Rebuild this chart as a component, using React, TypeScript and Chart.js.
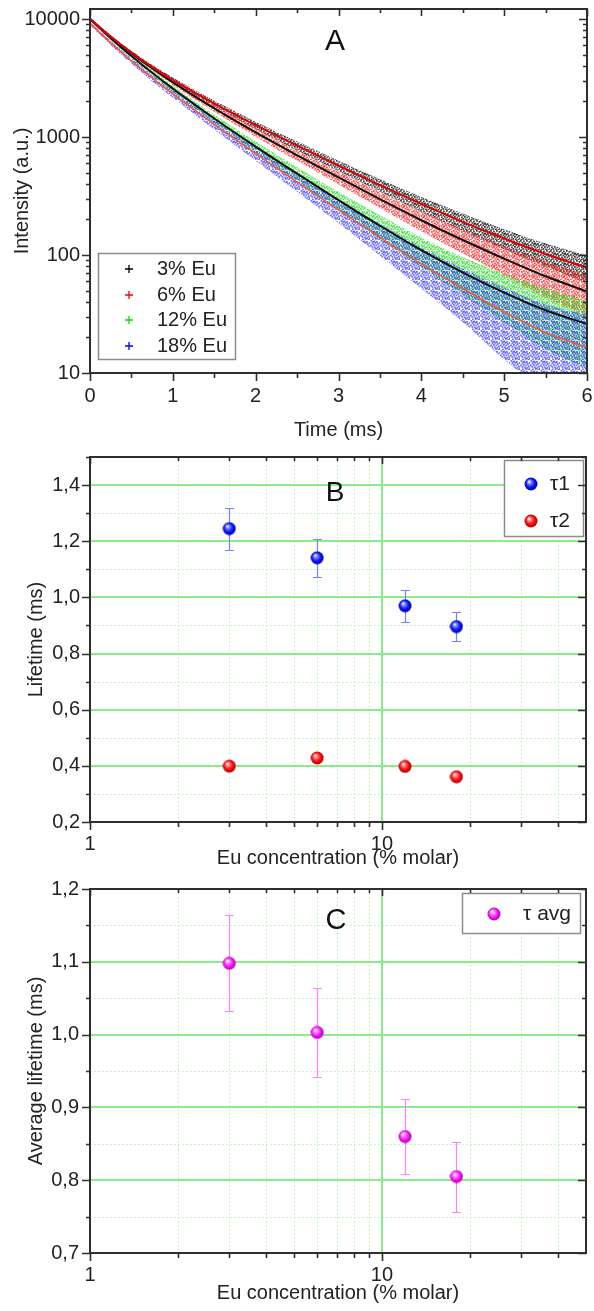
import React, { useEffect, useRef } from 'react';
import { Chart, registerables } from 'chart.js';

Chart.register(...registerables);

const FONT = '"Liberation Sans", Arial, Helvetica, sans-serif';
const INK = '#222222';

// ---------- Panel A : luminescence decay ----------
const TIME_MS = [0, 0.25, 0.5, 0.75, 1, 1.5, 2, 2.5, 3, 3.5, 4, 4.5, 5, 5.5, 6];
const SERIES_A = ['3% Eu', '6% Eu', '12% Eu', '18% Eu'];
// fitted curves
const FIT_3 = [10030, 7079, 5191, 3928, 3046, 1922, 1261, 844, 571, 391, 271, 191, 138, 102, 78];
const FIT_6 = [10018, 7072, 5138, 3825, 2905, 1748, 1094, 700, 454, 297, 197, 134, 93, 66, 49];
const FIT_12 = [10014, 6883, 4858, 3503, 2570, 1436, 829, 489, 292, 177, 110, 71, 48, 34, 26];
const FIT_18 = [9208, 6280, 4411, 3169, 2316, 1278, 723, 415, 241, 141, 84, 52, 33, 22, 16.5];
// upper / lower edges of the measured point clouds
const HI_3 = [10300, 7300, 5380, 4090, 3190, 2040, 1350, 920, 630, 440, 310, 225, 165, 125, 100];
const LO_3 = [9760, 6870, 5010, 3770, 2910, 1810, 1170, 770, 515, 345, 233, 160, 112, 80, 58];
const HI_6 = [10290, 7300, 5330, 3990, 3050, 1860, 1185, 772, 512, 344, 235, 165, 119, 88, 68];
const LO_6 = [9750, 6850, 4950, 3660, 2760, 1635, 1005, 628, 396, 250, 159, 103, 67, 44, 30];
const HI_12 = [10310, 7130, 5070, 3680, 2720, 1550, 915, 555, 343, 217, 141, 96, 69, 52, 41];
const LO_12 = [9720, 6640, 4650, 3325, 2420, 1322, 743, 423, 241, 137, 79, 46, 27, 16, 11];
const HI_18 = [9540, 6560, 4640, 3365, 2485, 1403, 817, 486, 295, 183, 116, 77, 53, 38, 31];
const LO_18 = [8870, 6000, 4180, 2973, 2148, 1153, 629, 344, 187, 99, 52, 27, 13, 7, 4];
const X_TICKS_A = [0, 1, 2, 3, 4, 5, 6];
const X_MINOR_A = [0.5, 1.5, 2.5, 3.5, 4.5, 5.5];
const Y_TICKS_A = [10, 100, 1000, 10000];
const Y_MINOR_A = [20, 30, 40, 50, 60, 70, 80, 90, 200, 300, 400, 500, 600, 700, 800, 900, 2000, 3000, 4000, 5000, 6000, 7000, 8000, 9000];

// ---------- Panels B and C : lifetimes ----------
const EU_CONC = [3, 6, 12, 18];
const TAU1 = [1.245, 1.141, 0.97, 0.896];
const TAU1_ERR = [0.075, 0.068, 0.058, 0.053];
const TAU2 = [0.399, 0.428, 0.398, 0.361];
const TAU_AVG = [1.098, 1.003, 0.86, 0.805];
const TAU_AVG_ERR = [0.066, 0.061, 0.052, 0.048];
const X_TICKS_LOG = [1, 10];
const X_MINOR_LOG = [2, 3, 4, 5, 6, 7, 8, 9, 20, 30, 40];
const Y_TICKS_B = [0.2, 0.4, 0.6, 0.8, 1.0, 1.2, 1.4];
const Y_MINOR_B = [0.3, 0.5, 0.7, 0.9, 1.1, 1.3, 1.5];
const Y_TICKS_C = [0.7, 0.8, 0.9, 1.0, 1.1, 1.2];
const Y_MINOR_C = [0.75, 0.85, 0.95, 1.05, 1.15];

const comma = (v: number) => Number(v).toFixed(1).replace('.', ',');

function makeBall(light: string, mid: string, dark: string, size = 14) {
  const c = document.createElement('canvas');
  c.width = size; c.height = size;
  const g = c.getContext('2d')!;
  const r = size / 2;
  const grad = g.createRadialGradient(r - 2, r - 2.5, 0.3, r, r, r);
  grad.addColorStop(0, '#ffffff');
  grad.addColorStop(0.22, light);
  grad.addColorStop(0.6, mid);
  grad.addColorStop(1, dark);
  g.fillStyle = grad;
  g.beginPath();
  g.arc(r, r, r - 0.5, 0, Math.PI * 2);
  g.fill();
  return c;
}

// dot texture used to paint the measured-point clouds
const DOT_TILE = [
  [0, 0], [3, 0.5], [6, 0], [8.5, 1], [1.5, 2], [4.5, 2.5], [7, 3], [0, 4], [2.5, 4.5], [5.5, 4],
  [8, 5], [1, 6.5], [4, 6], [6.5, 6.5], [9, 7.5], [2.5, 8], [5, 8.5], [7.5, 9], [0.5, 9], [3.5, 3],
];
function makeDots(color: string, shift: number) {
  const c = document.createElement('canvas');
  c.width = 10; c.height = 10;
  const g = c.getContext('2d')!;
  g.fillStyle = color;
  DOT_TILE.forEach(([x, y]) => {
    g.fillRect((x + shift) % 10, (y + shift * 2) % 10, 1.8, 1.8);
  });
  return g.createPattern(c, 'repeat');
}

function drawLegend(ctx: any, L: any) {
  ctx.fillStyle = '#ffffff';
  ctx.fillRect(L.x, L.y, L.w, L.h);
  ctx.strokeStyle = '#8c8c8c';
  ctx.lineWidth = 1.5;
  ctx.strokeRect(L.x + 0.5, L.y + 0.5, L.w, L.h);
  ctx.font = `${L.size}px ${FONT}`;
  ctx.textBaseline = 'middle';
  ctx.textAlign = 'left';
  L.items.forEach((it: any, k: number) => {
    const y = L.rows[k];
    if (it.img) {
      ctx.drawImage(it.img, L.markX - it.img.width / 2, y - it.img.height / 2);
    } else {
      ctx.strokeStyle = it.color;
      ctx.lineWidth = 1.3;
      ctx.beginPath();
      ctx.moveTo(L.markX - 4, y); ctx.lineTo(L.markX + 4, y);
      ctx.moveTo(L.markX, y - 4); ctx.lineTo(L.markX, y + 4);
      ctx.stroke();
    }
    ctx.fillStyle = INK;
    ctx.fillText(it.label, L.textX, y);
  });
}

const framePlugin = {
  id: 'frame',
  beforeDatasetsDraw(chart: any, _a: any, o: any) {
    const { ctx, chartArea: a } = chart;
    const xs = chart.scales.x, ys = chart.scales.y;
    ctx.save();
    if (o.grid) {
      const g = o.grid;
      ctx.lineWidth = 1;
      ctx.strokeStyle = g.minorColor;
      ctx.setLineDash([1.5, 2.5]);
      ctx.beginPath();
      g.xMinor.forEach((v: number) => { const p = Math.round(xs.getPixelForValue(v)) + 0.5; ctx.moveTo(p, a.top); ctx.lineTo(p, a.bottom); });
      g.yMinor.forEach((v: number) => { const p = Math.round(ys.getPixelForValue(v)) + 0.5; ctx.moveTo(a.left, p); ctx.lineTo(a.right, p); });
      ctx.stroke();
      ctx.setLineDash([]);
      ctx.lineWidth = 2;
      ctx.strokeStyle = g.majorColor;
      ctx.beginPath();
      g.xMajor.forEach((v: number) => { const p = Math.round(xs.getPixelForValue(v)); ctx.moveTo(p, a.top); ctx.lineTo(p, a.bottom); });
      g.yMajor.forEach((v: number) => { const p = Math.round(ys.getPixelForValue(v)); ctx.moveTo(a.left, p); ctx.lineTo(a.right, p); });
      ctx.stroke();
    }
    chart.data.datasets.forEach((ds: any, i: number) => {
      if (!ds.errorBars) return;
      const meta = chart.getDatasetMeta(i);
      ctx.strokeStyle = ds.errorColor;
      ctx.lineWidth = 1.2;
      ctx.beginPath();
      ds.data.forEach((p: any, j: number) => {
        const e = ds.errorBars[j];
        const x = Math.round(meta.data[j].x) + 0.5;
        const y1 = Math.round(ys.getPixelForValue(p.y + e)) + 0.5;
        const y2 = Math.round(ys.getPixelForValue(p.y - e)) + 0.5;
        ctx.moveTo(x, y1); ctx.lineTo(x, y2);
        ctx.moveTo(x - 4.5, y1); ctx.lineTo(x + 4.5, y1);
        ctx.moveTo(x - 4.5, y2); ctx.lineTo(x + 4.5, y2);
      });
      ctx.stroke();
    });
    ctx.restore();
  },
  afterDatasetsDraw(chart: any, _a: any, o: any) {
    const { ctx, chartArea: a } = chart;
    const xs = chart.scales.x, ys = chart.scales.y;
    ctx.save();
    if (o.legend) drawLegend(ctx, o.legend);
    if (o.letter) {
      ctx.font = `${o.letter.size}px ${FONT}`;
      ctx.fillStyle = '#111';
      ctx.textAlign = 'center';
      ctx.textBaseline = 'middle';
      ctx.fillText(o.letter.text, o.letter.x, o.letter.y);
    }
    ctx.strokeStyle = '#2e2e2e';
    ctx.lineWidth = 1.6;
    ctx.beginPath();
    const xt = (vals: number[], out: number, inn: number) => vals.forEach((v) => {
      const p = Math.round(xs.getPixelForValue(v)) + 0.5;
      ctx.moveTo(p, a.bottom); ctx.lineTo(p, a.bottom + out);
      ctx.moveTo(p, a.top); ctx.lineTo(p, a.top + inn);
    });
    const yt = (vals: number[], out: number, inn: number) => vals.forEach((v) => {
      const p = Math.round(ys.getPixelForValue(v)) + 0.5;
      ctx.moveTo(a.left - out, p); ctx.lineTo(a.left, p);
      ctx.moveTo(a.right, p); ctx.lineTo(a.right - inn, p);
    });
    xt(o.ticks.xMajor, 8, 7);
    xt(o.ticks.xMinor, 5, 4);
    yt(o.ticks.yMajor, 8, 8);
    yt(o.ticks.yMinor, 4, 4);
    ctx.stroke();
    ctx.lineWidth = 2;
    ctx.strokeStyle = '#2e2e2e';
    ctx.strokeRect(a.left, a.top, a.right - a.left, a.bottom - a.top);
    ctx.restore();
  },
};

const pinY = (w: number) => (s: any) => { s.width = w; s.paddingTop = 0; s.paddingBottom = 0; };
const pinX = (h: number) => (s: any) => { s.height = h; s.paddingLeft = 0; s.paddingRight = 0; };
const setTicks = (vals: number[]) => (s: any) => { s.ticks = vals.map((v) => ({ value: v })); };

function tickOpts(cb: (v: number) => string, padding: number) {
  return {
    font: { size: 20, family: FONT }, color: INK, padding,
    autoSkip: false, maxRotation: 0, minRotation: 0,
    callback: (v: any) => cb(Number(v)),
  };
}
function titleOpts(text: string, padding: any) {
  return { display: true, text, color: INK, font: { size: 20, family: FONT }, padding };
}

const baseOpts = {
  animation: false, responsive: false, devicePixelRatio: 1, events: [],
};

function configA() {
  const his = [HI_3, HI_6, HI_12, HI_18];
  const los = [LO_3, LO_6, LO_12, LO_18];
  const fits = [FIT_3, FIT_6, FIT_12, FIT_18];
  const cloud = ['rgba(0,0,0,0.72)', 'rgba(255,25,25,0.75)', 'rgba(35,225,35,0.78)', 'rgba(55,55,255,0.72)'];
  const solid = ['#000000', '#ff0000', '#00dd00', '#0000ff'];
  const fitColor = ['#e00000', '#111111', '#111111', '#ef5a3a'];
  const fitWidth = [2, 2, 2, 1.6];
  const pts = (arr: number[]) => TIME_MS.map((t, j) => ({ x: t, y: arr[j] }));
  const datasets: any[] = [];
  SERIES_A.forEach((name, i) => {
    datasets.push({
      label: name, data: pts(his[i]), borderColor: 'rgba(0,0,0,0)', borderWidth: 0, pointRadius: 0,
      fill: '+1', backgroundColor: makeDots(cloud[i], i * 3), order: 4 - i + 1, cubicInterpolationMode: 'monotone',
    });
    datasets.push({
      label: name + ' lower', data: pts(los[i]), borderColor: 'rgba(0,0,0,0)', borderWidth: 0, pointRadius: 0,
      fill: false, order: 4 - i + 1, cubicInterpolationMode: 'monotone',
    });
  });
  SERIES_A.forEach((name, i) => {
    datasets.push({
      label: name + ' fit', data: pts(fits[i]), borderColor: fitColor[i], borderWidth: fitWidth[i],
      pointRadius: 0, fill: false, order: 0, cubicInterpolationMode: 'monotone',
    });
  });
  return {
    type: 'line',
    data: { datasets },
    plugins: [framePlugin],
    options: {
      ...baseOpts,
      layout: { padding: { left: 0, right: 7, top: 9, bottom: 0 } },
      scales: {
        x: {
          type: 'linear', min: 0, max: 6,
          afterBuildTicks: setTicks(X_TICKS_A), afterFit: pinX(445 - 373),
          ticks: tickOpts((v) => String(v), 11),
          grid: { display: false, drawTicks: false }, border: { display: false },
          title: titleOpts('Time (ms)', { top: 0, bottom: 3 }),
        },
        y: {
          type: 'logarithmic', min: 10, max: 12160,
          afterBuildTicks: setTicks(Y_TICKS_A), afterFit: pinY(90),
          ticks: tickOpts((v) => String(v), 10),
          grid: { display: false, drawTicks: false }, border: { display: false },
          title: titleOpts('Intensity (a.u.)', { top: 10, bottom: 0 }),
        },
      },
      plugins: {
        legend: { display: false }, tooltip: { enabled: false },
        frame: {
          ticks: { xMajor: X_TICKS_A, xMinor: X_MINOR_A, yMajor: Y_TICKS_A, yMinor: Y_MINOR_A },
          letter: { text: 'A', x: 335, y: 42, size: 30 },
          legend: {
            x: 98, y: 253, w: 137, h: 106, size: 20, markX: 129, textX: 157,
            rows: [269, 295, 320, 346],
            items: SERIES_A.map((label, i) => ({ label, color: solid[i] })),
          },
        },
      },
    },
  };
}

const GRID_STYLE = { majorColor: 'rgb(140,236,140)', minorColor: 'rgb(175,240,175)' };

function lifetimeConfig(p: any) {
  return {
    type: 'scatter',
    data: { datasets: p.datasets },
    plugins: [framePlugin],
    options: {
      ...baseOpts,
      layout: { padding: { left: 0, right: 7, top: p.top, bottom: 0 } },
      scales: {
        x: {
          type: 'logarithmic', min: 1, max: 50,
          afterBuildTicks: setTicks(X_TICKS_LOG), afterFit: pinX(p.xh),
          ticks: tickOpts((v) => String(v), 10),
          grid: { display: false, drawTicks: false }, border: { display: false },
          title: titleOpts('Eu concentration (% molar)', { top: 0, bottom: p.titleBottom }),
        },
        y: {
          type: 'linear', min: p.ymin, max: p.ymax,
          afterBuildTicks: setTicks(p.yTicks), afterFit: pinY(90),
          ticks: tickOpts(comma, p.yPad),
          grid: { display: false, drawTicks: false }, border: { display: false },
          title: titleOpts(p.yTitle, { top: 24, bottom: 0 }),
        },
      },
      plugins: {
        legend: { display: false }, tooltip: { enabled: false },
        frame: {
          grid: { ...GRID_STYLE, xMajor: [10], xMinor: X_MINOR_LOG, yMajor: p.yGridMajor, yMinor: p.yGridMinor },
          ticks: { xMajor: X_TICKS_LOG, xMinor: X_MINOR_LOG, yMajor: p.yTicks, yMinor: p.yMinor },
          letter: p.letter,
          legend: p.legend,
        },
      },
    },
  };
}

function configB() {
  const blue = makeBall('#7f8cff', '#0a14ff', '#00009a');
  const red = makeBall('#ff8a8a', '#ff0a0a', '#a00000');
  const pts = (arr: number[]) => EU_CONC.map((x, j) => ({ x, y: arr[j] }));
  return lifetimeConfig({
    top: 12, xh: 425 - 377, titleBottom: 0, ymin: 0.2, ymax: 1.5, yPad: 10,
    yTicks: Y_TICKS_B, yMinor: Y_MINOR_B,
    yGridMajor: [0.4, 0.6, 0.8, 1.0, 1.2, 1.4], yGridMinor: [0.3, 0.5, 0.7, 0.9, 1.1, 1.3],
    yTitle: 'Lifetime (ms)',
    letter: { text: 'B', x: 335, y: 48, size: 28 },
    legend: {
      x: 504, y: 15, w: 79, h: 76, size: 21, markX: 531, textX: 550, rows: [39, 76],
      items: [{ label: 'τ1', img: blue }, { label: 'τ2', img: red }],
    },
    datasets: [
      { label: 'τ1', data: pts(TAU1), pointStyle: blue, pointRadius: 7, errorBars: TAU1_ERR, errorColor: '#7480ff' },
      { label: 'τ2', data: pts(TAU2), pointStyle: red, pointRadius: 7 },
    ],
  });
}

function configC() {
  const mag = makeBall('#ff9cff', '#ff10ff', '#a000a0');
  const pts = (arr: number[]) => EU_CONC.map((x, j) => ({ x, y: arr[j] }));
  return lifetimeConfig({
    top: 19, xh: 441 - 383, titleBottom: 6, ymin: 0.7, ymax: 1.2, yPad: 11,
    yTicks: Y_TICKS_C, yMinor: Y_MINOR_C,
    yGridMajor: [0.8, 0.9, 1.0, 1.1], yGridMinor: Y_MINOR_C,
    yTitle: 'Average lifetime (ms)',
    letter: { text: 'C', x: 336, y: 51, size: 29 },
    legend: {
      x: 462, y: 23, w: 118, h: 40, size: 21, markX: 494, textX: 523, rows: [44],
      items: [{ label: 'τ avg', img: mag }],
    },
    datasets: [
      { label: 'τ avg', data: pts(TAU_AVG), pointStyle: mag, pointRadius: 7, errorBars: TAU_AVG_ERR, errorColor: '#ff80ff' },
    ],
  });
}

export default function App() {
  const refA = useRef<HTMLCanvasElement>(null);
  const refB = useRef<HTMLCanvasElement>(null);
  const refC = useRef<HTMLCanvasElement>(null);
  useEffect(() => {
    Chart.defaults.font.family = FONT;
    const charts = [
      new Chart(refA.current as any, configA() as any),
      new Chart(refB.current as any, configB() as any),
      new Chart(refC.current as any, configC() as any),
    ];
    return () => charts.forEach((c) => c.destroy());
  }, []);
  const cs = (top: number, h: number) => ({ position: 'absolute' as const, left: 0, top, width: 594, height: h, display: 'block' });
  return (
    <div style={{ position: 'absolute', left: 0, top: 0, width: 594, height: 1311, background: '#ffffff' }}>
      <canvas ref={refA} width={594} height={445} style={cs(0, 445)} />
      <canvas ref={refB} width={594} height={425} style={cs(445, 425)} />
      <canvas ref={refC} width={594} height={441} style={cs(870, 441)} />
    </div>
  );
}
